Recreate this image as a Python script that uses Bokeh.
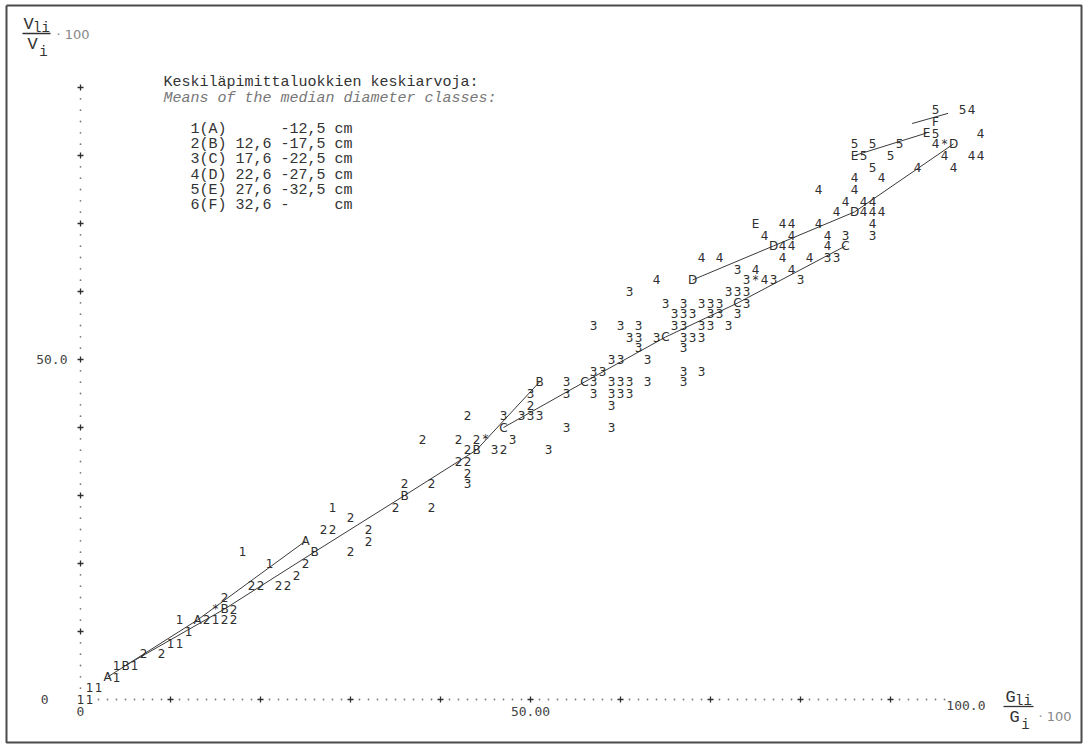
from bokeh.plotting import figure
from bokeh.models import Range1d, ColumnDataSource
from bokeh.core.properties import value
from bokeh.embed import file_html
from bokeh.resources import INLINE

# ---------------------------------------------------------------
# Observations: relative volume (Vli/Vi*100) against relative basal
# area (Gli/Gi*100), printed by median-diameter class 1..5
# ---------------------------------------------------------------
c1_x = [0, 1, 1, 2, 4, 4, 6, 10, 11, 12, 11, 15, 21, 18, 28]
c1_y = [0.0, 0.0, 1.7, 1.7, 3.3, 5.0, 5.0, 8.3, 8.3, 10.0, 11.7, 11.7, 20.0, 21.7, 28.3]

c2_x = [7, 9, 14, 16, 17, 17, 16, 19, 20, 22, 23, 24, 25, 30, 32, 32, 27, 28, 30,
        35, 39, 36, 39, 43, 42, 43, 43, 47, 38, 42, 44, 43, 50]
c2_y = [6.7, 6.7, 11.7, 11.7, 11.7, 13.3, 15.0, 16.7, 16.7, 16.7, 16.7, 18.3, 20.0,
        21.7, 23.3, 25.0, 25.0, 25.0, 26.7, 28.3, 28.3, 31.7, 31.7, 33.3, 35.0, 35.0,
        36.7, 36.7, 38.3, 38.3, 38.3, 41.7, 43.3]

c3_x = [43, 46, 48, 52, 47, 49, 50, 51, 54, 59, 50, 54, 57, 59, 60, 61, 63, 67,
        54, 57, 59, 60, 61, 59, 57, 58, 67, 69, 59, 60, 63, 62, 67, 61, 62, 64,
        67, 68, 69, 57, 60, 62, 66, 67, 69, 70, 72, 66, 67, 68, 70, 71, 73, 65,
        67, 69, 70, 71, 74, 61, 72, 73, 74, 74, 77, 80, 73, 83, 84, 85, 88]
c3_y = [31.7, 36.7, 38.3, 36.7, 41.7, 41.7, 41.7, 41.7, 40.0, 40.0, 45.0, 46.7,
        46.7, 46.7, 46.7, 46.7, 46.7, 46.7, 45.0, 45.0, 45.0, 45.0, 45.0, 43.3,
        48.3, 48.3, 48.3, 48.3, 50.0, 50.0, 50.0, 51.7, 51.7, 53.3, 53.3, 53.3,
        53.3, 53.3, 53.3, 55.0, 55.0, 55.0, 55.0, 55.0, 55.0, 55.0, 55.0, 56.7,
        56.7, 56.7, 56.7, 56.7, 56.7, 58.3, 58.3, 58.3, 58.3, 58.3, 58.3, 60.0,
        60.0, 60.0, 60.0, 61.7, 61.7, 61.7, 63.3, 65.0, 65.0, 68.3, 68.3]

c4_x = [64, 69, 71, 75, 79, 76, 78, 81, 78, 79, 83, 76, 79, 83, 78, 79, 82, 88,
        84, 87, 88, 89, 85, 87, 88, 82, 86, 86, 89, 93, 97, 96, 99, 100, 95, 100, 99]
c4_y = [61.7, 65.0, 65.0, 63.3, 63.3, 61.7, 65.0, 65.0, 66.7, 66.7, 66.7, 68.3,
        68.3, 68.3, 70.0, 70.0, 70.0, 70.0, 71.7, 71.7, 71.7, 71.7, 73.3, 73.3,
        73.3, 75.0, 75.0, 76.7, 76.7, 78.3, 78.3, 80.0, 80.0, 80.0, 81.7, 83.3, 86.7]

c5_x = [95, 98, 95, 86, 88, 91, 87, 90, 88]
c5_y = [86.7, 86.7, 83.3, 81.7, 81.7, 81.7, 80.0, 80.0, 78.3]

# Class means (letters) and the lines joining them
mean_a_x = [3, 13, 25]
mean_a_y = [3.3, 11.7, 23.3]
mean_b_x = [5, 16, 26, 36, 44, 51]
mean_b_y = [5.0, 13.3, 21.7, 30.0, 36.7, 46.7]
mean_c_x = [47, 56, 65, 73, 85]
mean_c_y = [40.0, 46.7, 53.3, 58.3, 66.7]
mean_d_x = [68, 77, 86, 97]
mean_d_y = [61.7, 66.7, 71.7, 81.7]
mean_e_x = [75, 86, 94]
mean_e_y = [70.0, 80.0, 83.3]
mean_f_x = [95]
mean_f_y = [85.0]
line_f_x = [92.4, 96.4]
line_f_y = [84.7, 86.2]
# overall means
mean_all_x = [15, 45, 75, 96]
mean_all_y = [13.3, 38.3, 61.7, 81.7]

x_ticks = [10, 20, 30, 40, 50, 60, 70, 80, 90]
y_ticks = [10, 20, 30, 40, 50, 60, 70, 80, 90]
x_tick_labels = {0: "0", 50: "50.00", 100: "100.0"}
y_tick_labels = {0: "0", 50: "50.0"}

legend_title = "Keskiläpimittaluokkien keskiarvoja:"
legend_title_en = "Means of the median diameter classes:"
legend_rows = [
    "1(A)      -12,5 cm",
    "2(B) 12,6 -17,5 cm",
    "3(C) 17,6 -22,5 cm",
    "4(D) 22,6 -27,5 cm",
    "5(E) 27,6 -32,5 cm",
    "6(F) 32,6 -     cm",
]

# ---------------------------------------------------------------
W, H = 1090, 744
ORIGIN = (80.0, 699.0)     # page position of (0, 0)
SCALE = (9.0, 6.8)         # page pixels per unit
ROW = 10.0 / 6.0           # printer line spacing in y units


def dx(px):
    return (px - ORIGIN[0]) / SCALE[0]


def dy(py):
    return (ORIGIN[1] - py) / SCALE[1]


def keep_spaces(s):
    return s.replace(" ", "\u00a0")


p = figure(width=W, height=H, output_backend="svg", toolbar_location=None,
           x_range=Range1d(dx(0), dx(W)), y_range=Range1d(dy(H), dy(0)),
           x_axis_location=None, y_axis_location=None, min_border=0,
           background_fill_color="white", border_fill_color="white")
p.grid.visible = False
p.outline_line_color = None

INK = "#2e2e2e"
CHAR_FONT = value("DejaVu Sans")
MONO = value("Liberation Mono")

# page frame
fx = [dx(6), dx(1081), dx(1081), dx(6), dx(6)]
fy = [dy(5), dy(5), dy(742), dy(742), dy(5)]
p.line(fx, fy, line_color="#4a4a4a", line_width=2)

# dotted axes with '+' at every tenth unit
ax_dots_x = [c for c in range(2, 97) if c % 10 != 0]
p.scatter(ax_dots_x, [0] * len(ax_dots_x), size=1.8, color="#7a7a7a", line_color=None)
ay_dots_y = [r * ROW for r in range(1, 54) if r % 6 != 0]
p.scatter([0] * len(ay_dots_y), ay_dots_y, size=1.8, color="#7a7a7a", line_color=None)
p.scatter(x_ticks, [0] * len(x_ticks), marker="cross", size=6, line_width=1.3, line_color=INK)
p.scatter([0] * len(y_ticks), y_ticks, marker="cross", size=6, line_width=1.3, line_color=INK)

TICK_FONT = value("DejaVu Sans Mono")
p.text(x=[0, 50], y=[dy(711), dy(711)], text=[x_tick_labels[0], x_tick_labels[50]],
       text_font=TICK_FONT, text_font_size="13px", text_color="#444",
       text_align="center", text_baseline="middle")
p.text(x=[dx(985)], y=[dy(705)], text=[x_tick_labels[100]],
       text_font=TICK_FONT, text_font_size="13px", text_color="#444",
       text_align="right", text_baseline="middle")
p.text(x=[dx(48), dx(67)], y=[0, 50], text=[y_tick_labels[0], y_tick_labels[50]],
       text_font=TICK_FONT, text_font_size="13px", text_color="#444",
       text_align="right", text_baseline="middle")

# joining lines of the class means
LINE = dict(line_color="#3a3a3a", line_width=1)
p.line(mean_a_x, mean_a_y, **LINE)
p.line(mean_b_x, mean_b_y, **LINE)
p.line(mean_c_x, mean_c_y, **LINE)
p.line(mean_d_x, mean_d_y, **LINE)
p.line(mean_e_x[1:], mean_e_y[1:], **LINE)
p.line(line_f_x, line_f_y, **LINE)


def chars(xs, ys, ch):
    src = ColumnDataSource(dict(x=xs, y=ys, t=[ch] * len(xs)))
    p.text(x="x", y="y", text="t", source=src, text_font=CHAR_FONT,
           text_font_size="12px", text_color=INK,
           text_align="center", text_baseline="middle")


chars(c1_x, c1_y, "1")
chars(c2_x, c2_y, "2")
chars(c3_x, c3_y, "3")
chars(c4_x, c4_y, "4")
chars(c5_x, c5_y, "5")
chars(mean_a_x, mean_a_y, "A")
chars(mean_b_x, mean_b_y, "B")
chars(mean_c_x, mean_c_y, "C")
chars(mean_d_x, mean_d_y, "D")
chars(mean_e_x, mean_e_y, "E")
chars(mean_f_x, mean_f_y, "F")
chars(mean_all_x, mean_all_y, "*")

# legend block
p.text(x=[dx(163)], y=[dy(82)], text=[legend_title], text_font=MONO,
       text_font_size="15px", text_color="#333", text_baseline="middle")
p.text(x=[dx(163)], y=[dy(98)], text=[legend_title_en], text_font=MONO,
       text_font_style="italic", text_font_size="15px", text_color="#777",
       text_baseline="middle")
leg_y = [dy(129 + 15.2 * i) for i in range(len(legend_rows))]
p.text(x=[dx(190)] * len(legend_rows), y=leg_y,
       text=[keep_spaces(r) for r in legend_rows], text_font=MONO,
       text_font_size="15px", text_color="#333", text_baseline="middle")

# axis titles written as fractions
def fraction(xc, ytop, num, num_sub, den, den_sub, bar_w):
    p.text(x=[dx(xc - 8)], y=[dy(ytop)], text=[num], text_font=MONO, text_font_size="17px",
           text_color="#333", text_align="center", text_baseline="middle")
    p.text(x=[dx(xc + 5)], y=[dy(ytop + 3)], text=[num_sub], text_font=MONO,
           text_font_size="14px", text_color="#333", text_align="center",
           text_baseline="middle")
    p.line([dx(xc - bar_w / 2), dx(xc + bar_w / 2)], [dy(ytop + 9), dy(ytop + 9)],
           line_color="#333", line_width=1.3)
    p.text(x=[dx(xc - 4)], y=[dy(ytop + 20)], text=[den], text_font=MONO,
           text_font_size="17px", text_color="#333", text_align="center",
           text_baseline="middle")
    p.text(x=[dx(xc + 7)], y=[dy(ytop + 27)], text=[den_sub], text_font=MONO,
           text_font_size="14px", text_color="#333", text_align="center",
           text_baseline="middle")


fraction(36, 24, "V", "li", "V", "i", 28)
p.text(x=[dx(56)], y=[dy(34)], text=["\u00b7 100"], text_font=value("DejaVu Sans"),
       text_font_size="13px", text_color="#888", text_baseline="middle")
fraction(1018, 697, "G", "li", "G", "i", 30)
p.text(x=[dx(1038)], y=[dy(716)], text=["\u00b7 100"], text_font=value("DejaVu Sans"),
       text_font_size="13px", text_color="#888", text_baseline="middle")

open("out.html", "w").write(file_html(p, INLINE))
